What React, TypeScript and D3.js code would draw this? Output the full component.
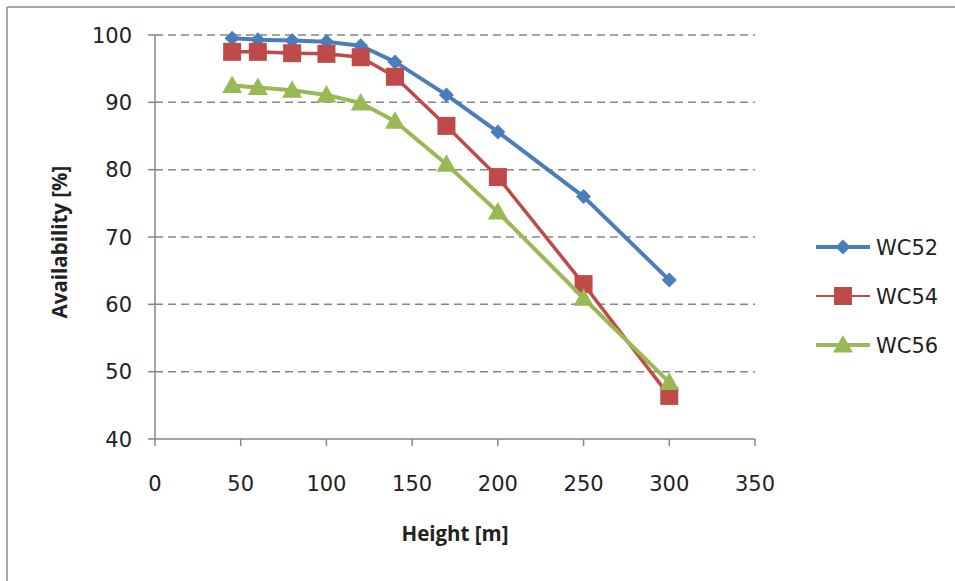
import React from "react";
import * as d3 from "d3";

const heights = [45, 60, 80, 100, 120, 140, 170, 200, 250, 300];
const wc52 = [99.5, 99.3, 99.2, 99.0, 98.4, 96.0, 91.1, 85.6, 76.0, 63.6];
const wc54 = [97.5, 97.5, 97.3, 97.2, 96.7, 93.8, 86.5, 78.9, 63.0, 46.4];
const wc56 = [92.5, 92.2, 91.8, 91.1, 89.9, 87.2, 80.8, 73.7, 60.9, 48.4];
const seriesNames = ["WC52", "WC54", "WC56"];
const xTicks = [0, 50, 100, 150, 200, 250, 300, 350];
const yTicks = [40, 50, 60, 70, 80, 90, 100];

const W = 955, H = 581;
const colors = ["#4A7EBB", "#BE4B48", "#98B954"];
const shapes = ["diamond", "square", "triangle"];
const widths = [4, 3.5, 4];

function Marker({ shape, x, y, color }: { shape: string; x: number; y: number; color: string }) {
  if (shape === "square") {
    const s = 18;
    return <rect x={x - s / 2} y={y - s / 2} width={s} height={s} fill={color} />;
  }
  if (shape === "diamond") {
    const r = 7.5;
    return <path d={`M${x},${y - r}L${x + r},${y}L${x},${y + r}L${x - r},${y}Z`} fill={color} />;
  }
  const r = 10;
  return <path d={`M${x},${y - r}L${x + r},${y + r * 0.75}L${x - r},${y + r * 0.75}Z`} fill={color} />;
}

export default function App() {
  const x = d3.scaleLinear().domain([0, 350]).range([155, 755]);
  const y = d3.scaleLinear().domain([40, 100]).range([439, 35]);
  const data = [wc52, wc54, wc56];
  const line = d3
    .line<number>()
    .x((_, i) => x(heights[i]))
    .y((d) => y(d));
  const tickFont = "'DejaVu Sans', Verdana, sans-serif";
  const titleFont = "'Open Sans', 'Noto Sans', sans-serif";
  const legendY = [247, 296, 345];

  return (
    <div style={{ position: "fixed", left: 0, top: 0 }}>
      <svg width={W} height={H} style={{ display: "block", background: "#fff" }}>
        <rect x={0} y={0} width={W} height={H} fill="#fff" />
        {/* outer border */}
        <line x1={7} y1={7} x2={W} y2={7} stroke="#8c8c8c" strokeWidth={1.5} />
        <line x1={7} y1={7} x2={7} y2={H} stroke="#8c8c8c" strokeWidth={1.5} />
        {/* gridlines */}
        {yTicks.filter((t) => t > 40).map((t) => (
          <line key={"g" + t} x1={x(0)} x2={x(350)} y1={y(t)} y2={y(t)} stroke="#868686" strokeWidth={1.5} strokeDasharray="8,5" />
        ))}
        {/* axes */}
        <line x1={x(0)} x2={x(0)} y1={y(100)} y2={y(40)} stroke="#868686" strokeWidth={1.5} />
        <line x1={x(0)} x2={x(350)} y1={y(40)} y2={y(40)} stroke="#868686" strokeWidth={1.5} />
        {yTicks.map((t) => (
          <g key={"yt" + t}>
            <line x1={x(0) - 7} x2={x(0)} y1={y(t)} y2={y(t)} stroke="#868686" strokeWidth={1.5} />
            <text x={132} y={y(t)} dy="0.36em" textAnchor="end" fontFamily={tickFont} fontSize={21} fill="#222">
              {t}
            </text>
          </g>
        ))}
        {xTicks.map((t) => (
          <g key={"xt" + t}>
            <line x1={x(t)} x2={x(t)} y1={y(40)} y2={y(40) + 7} stroke="#868686" strokeWidth={1.5} />
            <text x={x(t)} y={491} textAnchor="middle" fontFamily={tickFont} fontSize={21} fill="#222">
              {t}
            </text>
          </g>
        ))}
        <text x={455} y={541} textAnchor="middle" fontFamily={titleFont} fontWeight="bold" fontSize={20.5} fill="#222">
          Height [m]
        </text>
        <text transform="translate(67,242) rotate(-90)" textAnchor="middle" fontFamily={titleFont} fontWeight="bold" fontSize={20.5} fill="#222">
          Availability [%]
        </text>
        {/* series */}
        {data.map((vals, si) => (
          <g key={"s" + si}>
            <path d={line(vals) || ""} fill="none" stroke={colors[si]} strokeWidth={widths[si]} strokeLinejoin="round" />
            {vals.map((v, i) => (
              <Marker key={i} shape={shapes[si]} x={x(heights[i])} y={y(v)} color={colors[si]} />
            ))}
          </g>
        ))}
        {/* legend */}
        {seriesNames.map((n, si) => (
          <g key={"l" + n}>
            <line x1={816} x2={870} y1={legendY[si]} y2={legendY[si]} stroke={colors[si]} strokeWidth={si === 1 ? 2 : 4} />
            <Marker shape={shapes[si]} x={843} y={legendY[si]} color={colors[si]} />
            <text x={876} y={legendY[si]} dy="0.36em" fontFamily={tickFont} fontSize={21} fill="#222">
              {n}
            </text>
          </g>
        ))}
      </svg>
    </div>
  );
}
